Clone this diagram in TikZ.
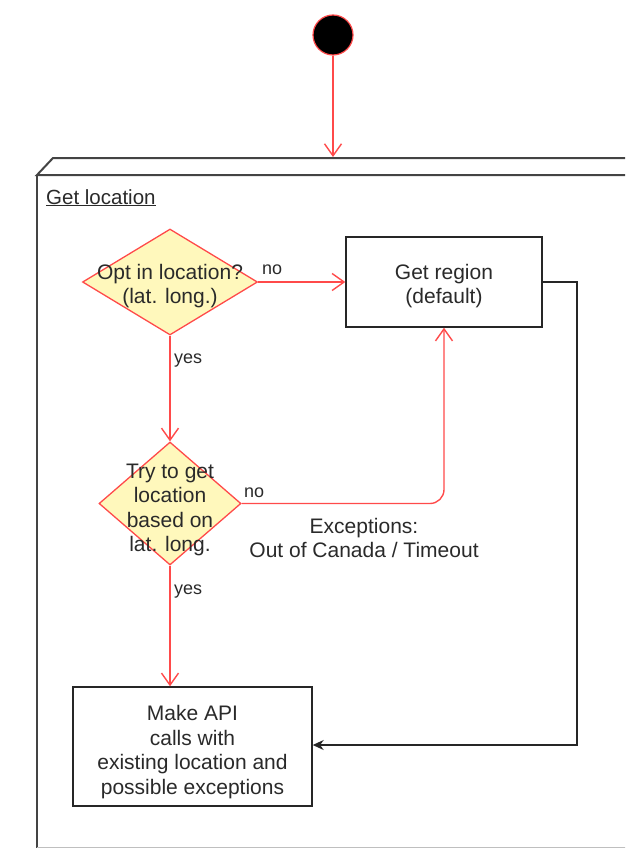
\documentclass[tikz,border=0pt]{standalone}
\usepackage{fontspec}
\setmainfont{Liberation Sans}
\usetikzlibrary{shapes.geometric,arrows.meta}
\definecolor{lred}{HTML}{FF4A4A}
\definecolor{dfill}{HTML}{FFF8BC}
\definecolor{framec}{HTML}{444444}
\definecolor{txtc}{HTML}{2A2A2A}
\begin{document}
\begin{tikzpicture}[x=1pt,y=-1pt,
  redarrow/.style={draw=lred, line width=1.4pt, -{Straight Barb[length=12pt,width=17pt,line width=1.4pt]}},
  blkarrow/.style={draw=black!85, line width=1.4pt, -{Stealth[length=11pt,width=10pt]}},
  framestyle/.style={draw=framec, line width=2pt},
  startc/.style={circle, fill=black, draw=lred, line width=1.2pt, minimum size=40pt, inner sep=0pt},
  decision/.style={diamond, draw=lred, fill=dfill, line width=1.3pt, inner sep=0pt},
  actbox/.style={rectangle, draw=black!85, line width=1.4pt, fill=white, inner sep=0pt},
  txt/.style={text=txtc, align=center, font=\fontsize{21}{24.5}\selectfont, inner sep=0pt},
  lbl/.style={text=txtc, font=\fontsize{18}{21}\selectfont, inner sep=0pt, anchor=west}
]
\useasboundingbox (0,0) rectangle (625,848);
\begin{scope}
\clip (0,0) rectangle (625,848);
% frame
\draw[framestyle] (640,158) -- (53,158) -- (37,175) -- (640,175);
\draw[framestyle] (37,175) -- (37,860);
\draw[draw=black!25, line width=1pt] (37,847.5) -- (640,847.5);
\end{scope}
\node[anchor=base west, text=txtc, font=\fontsize{20.5}{24}\selectfont, inner sep=0pt] (title) at (46,204) {\underline{Get location}};

% start
\node[startc] (start) at (333,35) {};
\coordinate (ftop) at (333,157);
\draw[redarrow] (start) -- (ftop);

% nodes
\node[decision, minimum width=175pt, minimum height=106pt] (d1) at (170,282) {};
\node[txt] (d1t) at (170,286) {Opt in location?\\(lat. long.)};
\node[actbox, minimum width=196pt, minimum height=90pt] (reg) at (444,282) {};
\node[txt] (regt) at (444,286) {Get region\\(default)};
\node[decision, minimum width=142pt, minimum height=123pt] (d2) at (170,503.5) {};
\node[txt] (d2t) at (170,510) {Try to get\\location\\based on\\lat. long.};
\node[actbox, minimum width=239pt, minimum height=119pt] (api) at (192.5,746.5) {};
\node[txt] (apit) at (192.5,752) {Make API\\calls with\\existing location and\\possible exceptions};

% edges
\draw[redarrow] (d1.east) -- (reg.west);
\node[lbl] (no1) at (262,270) {no};
\draw[redarrow] (d1.south) -- (d2.north);
\node[lbl] (yes1) at (174,361) {yes};
\draw[redarrow, rounded corners=14pt] (d2.east) -- (444,503.5) -- (reg.south);
\node[lbl] (no2) at (244,493) {no};
\node[txt] (exc) at (364,538) {Exceptions:\\Out of Canada / Timeout};
\draw[redarrow] (d2.south) -- (d2.south |- api.north);
\node[lbl] (yes2) at (174,592) {yes};
\draw[blkarrow] (reg.east) -- (577,282) -- (577,745) -- (api.east |- 0,745);
\end{tikzpicture}
\end{document}
